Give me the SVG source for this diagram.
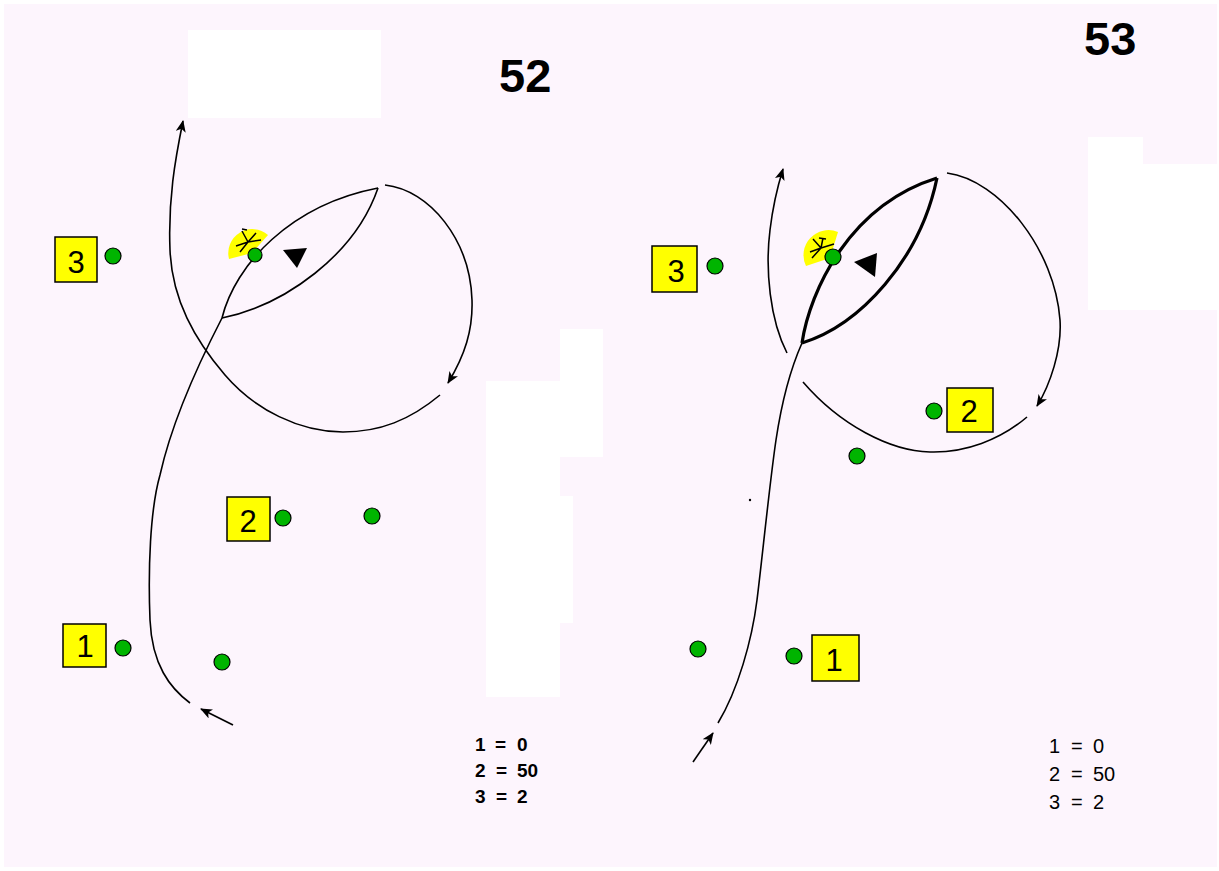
<svg xmlns="http://www.w3.org/2000/svg" width="1219" height="871" viewBox="0 0 1219 871">
<defs>
<marker id="ah" viewBox="0 0 12 10" refX="11" refY="5" markerWidth="12" markerHeight="10" markerUnits="userSpaceOnUse" orient="auto">
<path d="M0,0 L12,5 L0,10 L3,5 Z" fill="#000"/>
</marker>
<style>
.ln{fill:none;stroke:#000;stroke-width:1.6}
.thick{fill:none;stroke:#000;stroke-width:3.2}
.box{fill:#ffff00;stroke:#000;stroke-width:1.5}
.dot{fill:#00b400;stroke:#000;stroke-width:1.2}
.lbl{font-family:"Liberation Sans",Arial,sans-serif;font-size:31px;fill:#000;text-anchor:middle}
.ttl{font-family:"Liberation Sans",Arial,sans-serif;font-size:47px;font-weight:bold;fill:#000}
.lgb{font-family:"Liberation Sans",Arial,sans-serif;font-size:19px;font-weight:bold;fill:#000}
.lgn{font-family:"Liberation Sans",Arial,sans-serif;font-size:20px;fill:#000}
.wh{fill:#ffffff}
.sun{fill:#ffff00}
.ast{stroke:#000;stroke-width:1.5;fill:none}
</style>
</defs>
<rect x="0" y="0" width="1219" height="871" fill="#ffffff"/>
<rect x="4" y="4" width="1213" height="863" fill="#fdf5fd"/>
<g id="blanks">
<rect class="wh" x="188" y="30" width="193" height="88"/>
<rect class="wh" x="560" y="329" width="43" height="128"/>
<rect class="wh" x="486" y="381" width="74" height="316"/>
<rect class="wh" x="559" y="496" width="14" height="127"/>
<rect class="wh" x="1088" y="137" width="55" height="173"/>
<rect class="wh" x="1143" y="164" width="75" height="146"/>
</g>
<g id="titles">
<text class="ttl" x="499" y="92">52</text>
<text class="ttl" x="1084" y="55">53</text>
</g>
<g id="connectors">
<!-- left diagram 52 -->
<path class="ln" d="M233,725 L201,709" marker-end="url(#ah)"/>
<path class="ln" d="M190,703 C170,688 152,665 150,620 C148,570 150,510 160,475 C170,430 190,380 222,318"/>
<path class="ln" d="M222,318 C235,265 290,205 378,188"/>
<path class="ln" d="M222,318 C285,305 355,255 378,188"/>
<path class="ln" d="M385,185 C430,190 470,240 472,300 C473,330 465,355 448,383" marker-end="url(#ah)"/>
<path class="ln" d="M440,395 C410,420 380,432 343,432 C300,432 255,410 225,375 C195,340 172,300 170,250 C168,200 175,160 183,121" marker-end="url(#ah)"/>
<!-- right diagram 53 -->
<path class="ln" d="M693,762 L713,733" marker-end="url(#ah)"/>
<path class="ln" d="M718,723 C738,690 752,640 757,600 C762,560 770,480 776,440 C782,400 790,370 802,343"/>
<path class="thick" d="M802,343 C810,290 850,205 937,178"/>
<path class="thick" d="M802,343 C860,325 920,260 937,178"/>
<path class="ln" d="M947,173 C1000,180 1055,250 1060,320 C1062,350 1050,385 1037,406" marker-end="url(#ah)"/>
<path class="ln" d="M1027,417 C1000,440 965,453 930,452 C890,451 840,425 803,382"/>
<path class="ln" d="M787,353 C770,320 765,270 770,230 C773,205 778,185 783,169" marker-end="url(#ah)"/>
<circle cx="750" cy="500" r="1.2" fill="#000"/>
</g>
<g id="marker52">
<path class="sun" d="M252,253 L229,259 A24,24 0 0 1 268,235 Z"/>
<path class="ast" d="M248,242 L242,231 M248,242 L256,233 M248,242 L236,246 M248,242 L261,240 M248,242 L240,252 M242,229 L247,230"/>
<circle class="dot" cx="255" cy="255" r="7"/>
<path d="M283,250 L307,248 L297,268 Z" fill="#000"/>
</g>
<g id="marker53">
<path class="sun" d="M830,258 L806,266 A25,25 0 0 1 838,232 Z"/>
<path class="ast" d="M821,248 L813,239 M821,248 L823,238 M821,248 L810,252 M821,248 L834,244 M821,248 L812,258 M819,238 L826,239"/>
<circle class="dot" cx="833" cy="257" r="8"/>
<path d="M854,262 L877,253 L875,277 Z" fill="#000"/>
</g>
<g id="node52-3">
<rect class="box" x="55" y="237" width="42" height="45"/>
<text class="lbl" x="76" y="273">3</text>
<circle class="dot" cx="113" cy="256" r="8"/>
</g>
<g id="node52-2">
<rect class="box" x="227" y="497" width="43" height="44"/>
<text class="lbl" x="248" y="532">2</text>
<circle class="dot" cx="283" cy="518" r="8"/>
</g>
<g id="node52-a"><circle class="dot" cx="372" cy="516" r="8"/></g>
<g id="node52-1">
<rect class="box" x="63" y="624" width="43" height="43"/>
<text class="lbl" x="85" y="657">1</text>
<circle class="dot" cx="123" cy="648" r="8"/>
</g>
<g id="node52-b"><circle class="dot" cx="222" cy="662" r="8"/></g>
<g id="node53-3">
<rect class="box" x="652" y="246" width="45" height="46"/>
<text class="lbl" x="676" y="282">3</text>
<circle class="dot" cx="715" cy="266" r="8"/>
</g>
<g id="node53-2">
<rect class="box" x="947" y="388" width="46" height="44"/>
<text class="lbl" x="969" y="422">2</text>
<circle class="dot" cx="934" cy="411" r="8"/>
</g>
<g id="node53-a"><circle class="dot" cx="857" cy="456" r="8"/></g>
<g id="node53-b"><circle class="dot" cx="698" cy="649" r="8"/></g>
<g id="node53-1">
<rect class="box" x="812" y="635" width="47" height="46"/>
<text class="lbl" x="834" y="671">1</text>
<circle class="dot" cx="794" cy="656" r="8"/>
</g>
<g id="legend52">
<text class="lgb" y="751"><tspan x="475">1</tspan><tspan x="495">=</tspan><tspan x="517">0</tspan></text>
<text class="lgb" y="777"><tspan x="475">2</tspan><tspan x="496">=</tspan><tspan x="517">50</tspan></text>
<text class="lgb" y="803"><tspan x="475">3</tspan><tspan x="496">=</tspan><tspan x="517">2</tspan></text>
</g>
<g id="legend53">
<text class="lgn" y="753"><tspan x="1049">1</tspan><tspan x="1071">=</tspan><tspan x="1093">0</tspan></text>
<text class="lgn" y="781"><tspan x="1049">2</tspan><tspan x="1071">=</tspan><tspan x="1093">50</tspan></text>
<text class="lgn" y="809"><tspan x="1049">3</tspan><tspan x="1071">=</tspan><tspan x="1093">2</tspan></text>
</g>
</svg>
